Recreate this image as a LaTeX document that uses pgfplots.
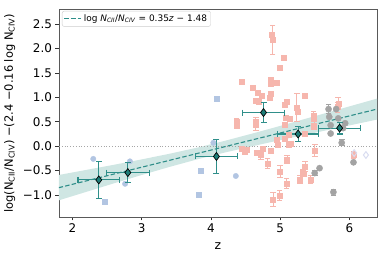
\documentclass[border=0pt]{standalone}
\usepackage{pgfplots}
\usepackage{pgfplotstable}
\pgfplotsset{compat=1.18}
\usepackage{fontspec}
\setmainfont{DejaVu Sans}
\definecolor{fitc}{HTML}{2E8E89}
\definecolor{bandc}{HTML}{CFE6E3}
\definecolor{dfill}{HTML}{1D7D78}
\definecolor{errc}{HTML}{2F8F8A}
\definecolor{pinkc}{HTML}{F6B6AD}
\definecolor{bluec}{HTML}{B2C5E2}
\definecolor{grayc}{HTML}{A3A3A3}
\definecolor{lavc}{HTML}{D8DCF0}
\pgfplotstableread{
x y e
4.89 2.18 0.30
5.24 0.79 0.29
5.49 0.56 0.10
5.83 0.80 0.10
4.37 0.50 0.06
4.65 0.45 0.13
4.72 -0.18 0.09
4.82 -0.35 0.10
5.10 -0.27 0.08
5.00 -0.52 0.12
5.09 -0.77 0.10
4.99 -1.01 0.10
4.90 -1.09 0.15
5.36 -0.42 0.10
5.29 -0.69 0.08
5.44 -0.69 0.08
5.50 -0.09 0.12
6.06 -0.18 0.08
5.48 0.62 0.10
5.84 0.88 0.12
}\pinkerr
\pgfplotstableread{
x y e
5.70 0.76 0.10
5.89 0.07 0.06
5.50 -0.55 0.05
5.77 -0.94 0.06
}\grayerr
\pgfplotstableread{
x y ex ey
2.38 -0.69 0.30 0.38
2.80 -0.54 0.31 0.20
4.08 -0.21 0.30 0.34
4.76 0.69 0.30 0.20
5.26 0.25 0.30 0.16
5.86 0.37 0.30 0.12
}\bins
\begin{document}
\begin{tikzpicture}
\useasboundingbox (-59bp,-38bp) rectangle (328bp,217bp);
\begin{axis}[
  at={(0,0)}, anchor=south west,
  scale only axis, width=318bp, height=207.5bp,
  xmin=1.805, xmax=6.40, ymin=-1.45, ymax=2.8,
  axis line style={black!65, line width=0.8bp},
  tick pos=left, tick align=outside, major tick length=3.5bp,
  tick style={black!80, line width=0.8bp},
  xtick={2,3,4,5,6}, xticklabels={2,3,4,5,6},
  ytick={-1,-0.5,0,0.5,1,1.5,2,2.5},
  yticklabels={−1.0,−0.5,0.0,0.5,1.0,1.5,2.0,2.5},
  tick label style={font=\fontsize{12}{14}\selectfont},
  xlabel={z},
  ylabel={log(N\textsubscript{CII}/N\textsubscript{CIV}) −(2.4 −0.16 log N\textsubscript{CIV})},
  every axis y label/.style={at={(axis description cs:-0.155,0.5)}, rotate=90, anchor=center, font=\fontsize{11.5}{14}\selectfont},
  every axis x label/.style={at={(axis description cs:0.5,-0.14)}, anchor=center, font=\fontsize{12.5}{14}\selectfont},
  legend style={at={(axis description cs:0.0094,0.993)}, anchor=north west,
    draw=black!20, rounded corners=2bp, font=\fontsize{9}{11}\selectfont,
    inner sep=1.5bp},
  legend cell align=left,
]
% band
\addplot[fill=bandc, draw=none, forget plot] coordinates {
(1.8,-0.59)(2.2,-0.485)(2.6,-0.38)(3.0,-0.27)(3.4,-0.155)(3.8,-0.03)(4.2,0.11)(4.6,0.26)(5.0,0.415)(5.4,0.575)(5.8,0.735)(6.2,0.895)(6.4,0.975)
(6.4,0.545)(6.2,0.485)(5.8,0.365)(5.4,0.245)(5.0,0.125)(4.6,0.00)(4.2,-0.13)(3.8,-0.27)(3.4,-0.425)(3.0,-0.59)(2.6,-0.76)(2.2,-0.935)(1.8,-1.11)
} -- cycle;
% zero line
\addplot[black!35, dotted, line width=0.8bp, forget plot] coordinates {(1.805,0)(6.4,0)};
% blue circles
\addplot[only marks, color=bluec, mark=*, mark size=2.7bp, forget plot] coordinates {
(2.30,-0.26)(2.76,-0.77)(2.83,-0.31)(4.035,0.07)(4.36,-0.61)};
% blue squares
\addplot[only marks, color=bluec, mark=square*, mark size=2.5bp, forget plot] coordinates {
(2.47,-1.13)(4.08,0.97)(3.85,-0.50)(3.83,-0.99)};
% pink squares without errors
\addplot[only marks, color=pinkc, mark=square*, mark size=2.5bp, forget plot] coordinates {
(4.88,2.29)(5.05,1.81)(4.99,1.61)(4.44,1.32)(4.61,1.19)(4.86,1.36)(4.87,1.27)(4.955,1.30)
(4.68,1.09)(4.73,1.04)(4.85,1.00)(4.87,1.08)(4.65,0.93)(4.685,0.91)(5.10,0.92)(5.06,0.86)
(5.36,1.04)(5.26,0.70)(5.08,0.58)(4.65,0.50)(4.37,0.43)(5.07,0.45)(5.14,0.56)
(4.45,-0.06)(4.49,-0.11)(4.52,-0.08)(4.66,-0.14)(4.75,-0.06)(4.86,-0.09)(4.96,0.03)
(4.95,0.13)(5.06,0.16)(5.12,0.23)(5.12,0.03)(5.16,0.05)(5.33,-0.52)(5.36,0.26)(5.48,0.39)(5.34,-0.56)};
% pink squares with errors
\addplot[only marks, color=pinkc, mark=square*, mark size=2.5bp, forget plot,
  error bars/.cd, y dir=both, y explicit, error mark=none,
  error bar style={line width=1bp}]
  table[x=x, y=y, y error=e] {\pinkerr};
\addplot[only marks, color=pinkc, mark=-, mark size=2.8bp, line width=1bp, forget plot]
  table[x=x, y expr=\thisrow{y}+\thisrow{e}] {\pinkerr};
\addplot[only marks, color=pinkc, mark=-, mark size=2.8bp, line width=1bp, forget plot]
  table[x=x, y expr=\thisrow{y}-\thisrow{e}] {\pinkerr};
% gray circles
\addplot[only marks, color=grayc, mark=*, mark size=3.1bp, forget plot] coordinates {
(5.81,0.76)(5.71,0.60)(5.84,0.57)(5.73,0.43)(5.94,0.47)(5.91,0.37)(5.73,0.26)(6.06,-0.33)(5.57,-0.45)};
\addplot[only marks, color=grayc, mark=*, mark size=3.1bp, forget plot,
  error bars/.cd, y dir=both, y explicit, error mark=none,
  error bar style={line width=1bp}]
  table[x=x, y=y, y error=e] {\grayerr};
\addplot[only marks, color=grayc, mark=-, mark size=2.8bp, line width=1bp, forget plot]
  table[x=x, y expr=\thisrow{y}+\thisrow{e}] {\grayerr};
\addplot[only marks, color=grayc, mark=-, mark size=2.8bp, line width=1bp, forget plot]
  table[x=x, y expr=\thisrow{y}-\thisrow{e}] {\grayerr};
% open diamonds
\addplot[only marks, color=lavc, mark=diamond, mark size=3.4bp, mark options={line width=1bp}, forget plot] coordinates {
(6.07,-0.14)(6.24,-0.18)};
% fit line
\addplot[fitc, line width=1.1bp, dash pattern=on 4.5bp off 2.2bp] coordinates {(1.8,-0.85)(6.4,0.76)};
\addlegendentry{log \textit{N}\textsubscript{\textit{CII}}/\textit{N}\textsubscript{\textit{CIV}} = 0.35\textit{z} − 1.48}
% binned diamonds: bars
\addplot[only marks, color=errc, mark=none, forget plot,
  error bars/.cd, x dir=both, x explicit, y dir=both, y explicit, error mark=none,
  error bar style={color=errc, line width=1.1bp}]
  table[x=x, y=y, x error=ex, y error=ey] {\bins};
\addplot[only marks, color=errc, mark=-, mark size=3bp, line width=1.1bp, forget plot]
  table[x=x, y expr=\thisrow{y}+\thisrow{ey}] {\bins};
\addplot[only marks, color=errc, mark=-, mark size=3bp, line width=1.1bp, forget plot]
  table[x=x, y expr=\thisrow{y}-\thisrow{ey}] {\bins};
\addplot[only marks, color=errc, mark=|, mark size=3bp, line width=1.1bp, forget plot]
  table[x expr=\thisrow{x}+\thisrow{ex}, y=y] {\bins};
\addplot[only marks, color=errc, mark=|, mark size=3bp, line width=1.1bp, forget plot]
  table[x expr=\thisrow{x}-\thisrow{ex}, y=y] {\bins};
\addplot[only marks, mark=diamond*, mark size=4bp, mark options={draw=black, fill=dfill, line width=0.7bp}, forget plot]
  table[x=x, y=y] {\bins};
\end{axis}
\end{tikzpicture}
\end{document}
